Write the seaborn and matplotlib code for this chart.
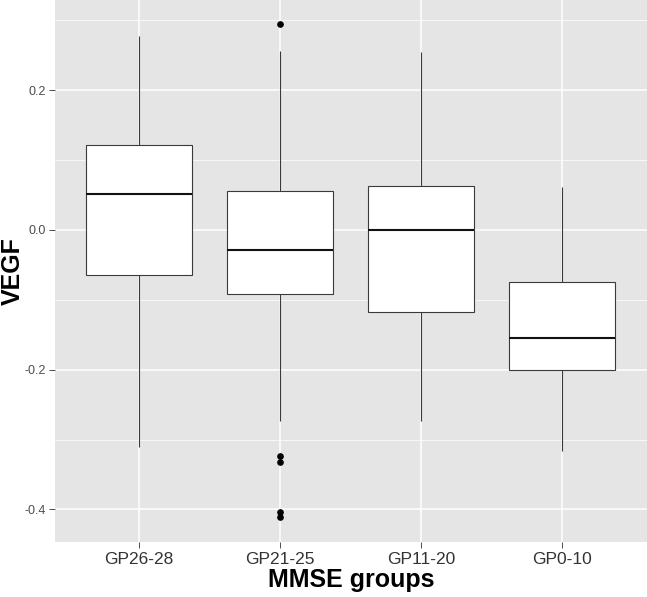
import numpy as np
import pandas as pd
import matplotlib
matplotlib.use('Agg')
import matplotlib.pyplot as plt
import seaborn as sns
from matplotlib.ticker import FixedLocator

# values (five-number summary per group + outliers)
groups = ['GP26-28', 'GP21-25', 'GP11-20', 'GP0-10']
lower_whisker = [-0.311, -0.274, -0.273, -0.316]
q1 = [-0.065, -0.092, -0.118, -0.200]
median = [0.051, -0.029, 0.000, -0.155]
q3 = [0.122, 0.055, 0.063, -0.074]
upper_whisker = [0.277, 0.256, 0.254, 0.062]
outliers_gp21_25 = [0.295, -0.323, -0.332, -0.403, -0.411]

# each summary value is given equal weight so the box stats come out as read
weight = 20
rows = []
for i, g in enumerate(groups):
    core = [lower_whisker[i], q1[i], median[i], q3[i], upper_whisker[i]]
    for v in np.repeat(core, weight):
        rows.append([g, v])
for v in outliers_gp21_25:
    rows.append(['GP21-25', v])
df = pd.DataFrame(rows, columns=['MMSE groups', 'VEGF'])

plt.rcParams['axes.unicode_minus'] = False
plt.rcParams['font.family'] = ['Liberation Sans', 'DejaVu Sans']

fig = plt.figure(figsize=(6.47, 5.97), dpi=100)
ax = fig.add_axes([54.5 / 647, (597 - 542.3) / 597, 1 - 54.5 / 647, 542.3 / 597])
ax.set_facecolor('#E5E5E5')

sns.boxplot(data=df, x='MMSE groups', y='VEGF', order=groups, ax=ax,
            width=0.75, color='white', saturation=1, linecolor='#3a3a3a',
            linewidth=0.8, fliersize=3.8, showcaps=False,
            flierprops=dict(marker='o', markerfacecolor='black', markeredgecolor='black'),
            medianprops=dict(color='#111111', linewidth=1.5))

ax.set_xlim(-0.6, 3.6)
ax.set_ylim(-0.447, 0.329)
ax.yaxis.set_major_locator(FixedLocator([-0.4, -0.2, 0.0, 0.2]))
ax.set_yticklabels(['-0.4', '-0.2', '0.0', '0.2'])
ax.yaxis.set_minor_locator(FixedLocator([-0.3, -0.1, 0.1, 0.3]))

ax.set_axisbelow(True)
ax.grid(True, which='major', axis='both', color='white', linewidth=1.1)
ax.grid(True, which='minor', axis='y', color='white', linewidth=0.5)
for s in ax.spines.values():
    s.set_visible(False)

ax.tick_params(axis='both', which='major', length=4, width=0.7, color='#4D4D4D', pad=2)
ax.tick_params(axis='y', which='major', labelsize=9, labelcolor='#4D4D4D')
ax.tick_params(axis='x', which='major', labelsize=12.5, labelcolor='#333333', pad=3)
ax.tick_params(axis='y', which='minor', length=0)

ax.set_xlabel('MMSE groups', fontsize=18, fontweight='bold', labelpad=1)
ax.set_ylabel('VEGF', fontsize=18, fontweight='bold', va='center')
ax.yaxis.set_label_coords(-0.071, 0.5)

fig.savefig('out.png', dpi=100)
